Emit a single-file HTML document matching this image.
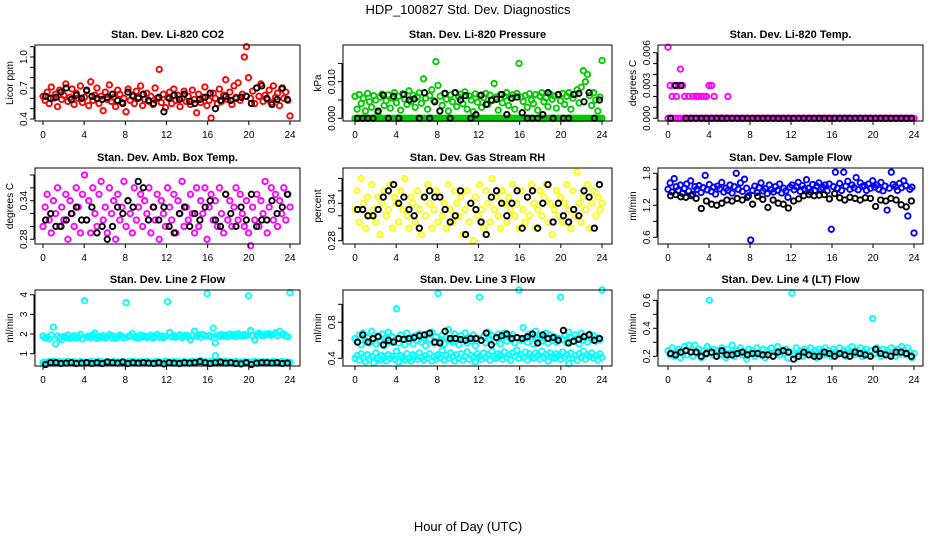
<!DOCTYPE html>
<html><head><meta charset="utf-8">
<style>
html,body{margin:0;padding:0;background:#fff;}
svg{display:block;font-family:"Liberation Sans",Arial,sans-serif;}
</style></head>
<body>
<svg id="chart" width="936" height="540" viewBox="0 0 936 540" xmlns="http://www.w3.org/2000/svg">
<text x="468" y="14" text-anchor="middle" font-size="13">HDP_100827  Std. Dev. Diagnostics</text>
<text x="468" y="531" text-anchor="middle" font-size="13">Hour of Day (UTC)</text>
<g id="panels"></g>
</svg>
<script>
// ---- data ----
const hourTicks = [0,4,8,12,16,20,24];
const panelTitles = ["Stan. Dev. Li-820 CO2","Stan. Dev. Li-820 Pressure","Stan. Dev. Li-820 Temp.","Stan. Dev. Amb. Box Temp.","Stan. Dev. Gas Stream RH","Stan. Dev. Sample Flow","Stan. Dev. Line 2 Flow","Stan. Dev. Line 3 Flow","Stan. Dev. Line 4 (LT) Flow"];
const yTitles = ["Licor ppm","kPa","degrees C","degrees C","percent","ml/min","ml/min","ml/min","ml/min"];
const seriesColors = ["#ff0000","#00cc00","#ff00ff","#ff00ff","#ffff00","#0000ff","#00ffff","#00ffff","#00ffff"];

const co2Main = [0.62,0.58,0.66,0.55,0.71,0.60,0.64,0.52,0.68,0.59,0.63,0.74,0.57,0.61,0.69,0.54,0.65,0.60,0.72,0.56,0.61,0.67,0.53,0.76,0.58,0.63,0.70,0.55,0.62,0.48,0.66,0.59,0.73,0.57,0.61,0.52,0.68,0.64,0.56,0.60,0.47,0.69,0.58,0.63,0.55,0.67,0.61,0.72,0.53,0.59,0.65,0.57,0.62,0.54,0.70,0.60,0.88,0.56,0.64,0.51,0.61,0.66,0.55,0.69,0.58,0.63,0.52,0.60,0.67,0.57,0.62,0.54,0.68,0.59,0.46,0.64,0.56,0.61,0.71,0.53,0.58,0.41,0.65,0.60,0.55,0.69,0.57,0.63,0.78,0.59,0.66,0.54,0.72,0.61,0.75,0.58,0.64,1.00,1.10,0.80,0.60,0.67,0.55,0.70,0.62,0.74,0.57,0.63,0.59,0.68,0.56,0.72,0.61,0.65,0.53,0.69,0.60,0.66,0.58,0.43];
const co2Black = [0.62,0.60,0.61,0.66,0.70,0.59,0.63,0.60,0.68,0.62,0.60,0.59,0.61,0.64,0.58,0.55,0.66,0.62,0.60,0.64,0.58,0.55,0.61,0.47,0.60,0.63,0.59,0.64,0.57,0.55,0.59,0.61,0.65,0.50,0.58,0.62,0.58,0.60,0.61,0.62,0.55,0.70,0.72,0.60,0.54,0.59,0.70,0.59];

const presMain = [0.0060,0.0025,0.0065,0.0040,0.0055,0.0020,0.0068,0.0045,0.0030,0.0062,0.0050,0.0015,0.0058,0.0066,0.0035,0.0048,0.0064,0.0028,0.0055,0.0070,0.0042,0.0060,0.0022,0.0067,0.0052,0.0038,0.0075,0.0046,0.0063,0.0030,0.0058,0.0069,0.0041,0.0108,0.0055,0.0025,0.0062,0.0078,0.0048,0.0155,0.0090,0.0060,0.0035,0.0068,0.0052,0.0020,0.0064,0.0045,0.0070,0.0032,0.0058,0.0066,0.0040,0.0072,0.0025,0.0061,0.0050,0.0018,0.0067,0.0044,0.0062,0.0030,0.0056,0.0068,0.0038,0.0063,0.0048,0.0095,0.0058,0.0022,0.0065,0.0042,0.0060,0.0070,0.0035,0.0055,0.0064,0.0025,0.0068,0.0150,0.0058,0.0046,0.0062,0.0030,0.0067,0.0050,0.0040,0.0065,0.0022,0.0060,0.0070,0.0045,0.0056,0.0032,0.0066,0.0052,0.0061,0.0028,0.0064,0.0048,0.0068,0.0038,0.0060,0.0070,0.0025,0.0055,0.0065,0.0078,0.0042,0.0085,0.0130,0.0100,0.0120,0.0062,0.0035,0.0070,0.0050,0.0020,0.0058,0.0158];
const presLow = [0,0,0,0,0,0,0,0,0,0,0,0,0,0,0,0,0,0,0,0,0,0,0,0,0,0,0,0,0,0,0,0,0,0,0,0,0,0,0,0,0,0,0,0,0,0,0,0,0,0,0,0,0,0,0,0,0,0,0,0,0,0,0,0,0,0,0,0,0,0,0,0,0,0,0,0,0,0,0,0,0,0,0,0,0,0,0,0,0,0,0,0,0,0,0,0,0,0,0,0,0,0,0,0,0,0,0,0,0,0,0,0,0,0,0,0,0,0,0,0];
const presBlack = [0,0,0,0,0.0020,0.0063,0,0.0060,0,0.0065,0.0050,0.0053,0,0.0070,0,0.0045,0.0020,0.0068,0,0.0070,0.0050,0.0062,0,0.0010,0.0063,0.0038,0.0050,0.0052,0.0065,0.0010,0.0055,0.0058,0.0015,0,0,0,0.0010,0.0070,0,0.0065,0,0,0.0065,0.0068,0.0045,0.0070,0,0.0050];

const tempMain = [0.0065,0.0030,0.0020,0.0030,0.0020,0.0030,0.0045,0.0030,0.0020,0,0.0020,0,0.0020,0,0.0020,0,0,0,0,0,0,0,0,0,0,0,0,0,0,0.0020,0,0,0,0,0,0,0,0,0,0,0,0,0,0,0,0,0,0,0,0,0,0,0,0,0,0,0,0,0,0,0,0,0,0,0,0,0,0,0,0,0,0,0,0,0,0,0,0,0,0,0,0,0,0,0,0,0,0,0,0,0,0,0,0,0,0,0,0,0,0,0,0,0,0,0,0,0,0,0,0,0,0,0,0,0,0,0,0,0,0];
const tempLow = [0,0,0,0,0,0,0,0,0,0,0,0.0020,0.0020,0.0020,0.0020,0.0020,0.0030,0.0030,0.0020,0,0,0,0,0,0];
const tempBlack = [0,0.0030,0.0030,0,0,0,0,0,0,0,0,0,0,0,0,0,0,0,0,0,0,0,0,0,0,0,0,0,0,0,0,0,0,0,0,0,0,0,0,0,0,0,0,0,0,0,0,0];

const boxMain = [0.30,0.33,0.35,0.31,0.29,0.34,0.32,0.36,0.30,0.33,0.31,0.35,0.28,0.34,0.32,0.30,0.36,0.33,0.29,0.35,0.38,0.31,0.34,0.29,0.36,0.32,0.30,0.35,0.37,0.31,0.33,0.29,0.36,0.32,0.34,0.28,0.35,0.31,0.33,0.37,0.30,0.34,0.32,0.29,0.36,0.31,0.33,0.35,0.30,0.34,0.32,0.36,0.29,0.33,0.31,0.35,0.28,0.34,0.32,0.30,0.36,0.33,0.31,0.35,0.29,0.34,0.32,0.37,0.30,0.33,0.31,0.35,0.32,0.29,0.36,0.30,0.34,0.32,0.36,0.28,0.33,0.35,0.31,0.34,0.30,0.36,0.32,0.29,0.35,0.31,0.34,0.30,0.33,0.36,0.31,0.35,0.32,0.30,0.34,0.29,0.27,0.33,0.31,0.35,0.30,0.34,0.32,0.37,0.29,0.33,0.36,0.31,0.35,0.30,0.34,0.32,0.36,0.31,0.35,0.33];
const boxBlack = [0.31,0.32,0.30,0.30,0.31,0.32,0.33,0.31,0.31,0.33,0.29,0.30,0.28,0.30,0.33,0.32,0.34,0.33,0.37,0.36,0.31,0.33,0.31,0.33,0.30,0.29,0.32,0.33,0.30,0.32,0.31,0.33,0.34,0.31,0.30,0.35,0.32,0.30,0.33,0.31,0.35,0.30,0.31,0.31,0.34,0.32,0.33,0.35];

const rhMain = [0.33,0.36,0.31,0.38,0.34,0.30,0.35,0.32,0.37,0.33,0.31,0.35,0.29,0.34,0.36,0.32,0.33,0.37,0.30,0.35,0.34,0.31,0.36,0.33,0.38,0.32,0.30,0.35,0.34,0.31,0.36,0.33,0.29,0.35,0.32,0.37,0.34,0.30,0.33,0.36,0.31,0.35,0.32,0.34,0.30,0.37,0.33,0.31,0.36,0.34,0.32,0.35,0.29,0.33,0.36,0.31,0.34,0.28,0.35,0.32,0.37,0.33,0.30,0.36,0.34,0.31,0.38,0.33,0.35,0.32,0.30,0.36,0.34,0.31,0.35,0.33,0.37,0.32,0.34,0.30,0.36,0.33,0.31,0.35,0.32,0.37,0.34,0.30,0.33,0.36,0.32,0.35,0.37,0.31,0.34,0.29,0.33,0.36,0.32,0.35,0.31,0.34,0.37,0.33,0.30,0.36,0.32,0.39,0.34,0.31,0.35,0.33,0.37,0.30,0.34,0.36,0.32,0.35,0.33,0.34];
const rhBlack = [0.33,0.33,0.32,0.32,0.33,0.35,0.36,0.37,0.34,0.35,0.33,0.32,0.30,0.35,0.36,0.35,0.35,0.33,0.31,0.32,0.36,0.29,0.34,0.33,0.31,0.29,0.35,0.36,0.34,0.32,0.34,0.36,0.30,0.35,0.36,0.30,0.34,0.37,0.31,0.34,0.32,0.31,0.33,0.32,0.36,0.35,0.30,0.37];

const flowMain = [1.50,1.62,1.45,1.70,1.55,1.48,1.58,1.42,1.52,1.60,1.47,1.66,1.40,1.55,1.50,1.57,1.44,1.53,1.76,1.49,1.59,1.46,1.54,1.41,1.56,1.51,1.63,1.45,1.52,1.48,1.58,1.43,1.55,1.80,1.50,1.62,1.46,1.69,1.52,1.38,0.55,1.48,1.56,1.44,1.53,1.62,1.47,1.51,1.42,1.58,1.50,1.45,1.55,1.48,1.60,1.43,1.52,1.47,1.35,1.54,1.58,1.49,1.55,1.63,1.46,1.57,1.51,1.68,1.52,1.45,1.59,1.48,1.56,1.62,1.50,1.53,1.58,1.47,1.60,0.75,1.55,1.82,1.52,1.61,1.48,1.82,1.56,1.65,1.50,1.58,1.53,1.72,1.49,1.62,1.55,1.57,1.48,1.60,1.52,1.66,1.54,1.58,1.50,1.63,1.47,1.56,1.11,1.52,1.82,1.59,1.55,1.48,1.61,1.53,1.66,1.57,1.00,1.50,1.54,0.68];
const flowBlack = [1.38,1.40,1.36,1.35,1.38,1.33,1.14,1.28,1.22,1.20,1.24,1.30,1.28,1.33,1.30,1.35,1.22,1.37,1.31,1.16,1.30,1.24,1.22,1.15,1.28,1.32,1.38,1.40,1.38,1.39,1.40,1.32,1.42,1.34,1.30,1.35,1.33,1.30,1.34,1.33,1.18,1.30,1.28,1.33,1.30,1.21,1.17,1.28];

const line2Main = [1.90,1.80,1.85,1.75,1.95,2.35,1.50,1.90,1.80,1.72,1.88,1.82,1.95,1.78,1.86,1.92,1.80,1.84,1.98,1.76,3.70,1.85,1.90,1.82,1.95,2.05,1.78,1.88,1.84,1.92,1.80,1.86,1.96,1.82,1.90,1.78,1.85,1.94,1.88,1.80,3.60,1.86,1.92,2.02,1.84,1.88,1.80,1.95,1.86,1.90,1.82,1.88,1.94,1.80,1.86,1.98,1.84,1.90,1.82,1.88,3.65,2.08,1.86,1.92,1.84,1.90,1.96,1.82,1.88,1.94,1.86,1.72,1.92,2.15,1.88,1.96,1.84,1.98,1.90,4.05,1.92,1.86,2.30,1.55,1.95,1.88,1.98,1.90,1.94,1.86,2.00,1.92,1.96,1.88,2.02,1.94,1.90,1.98,1.92,3.95,2.18,1.92,1.70,1.98,2.04,1.94,1.90,2.00,1.96,2.02,1.94,1.98,2.06,1.92,2.14,1.96,2.00,1.90,1.86,4.10];
const line2Low = [0.55,0.58,0.52,0.60,0.56,0.62,0.54,0.57,0.60,0.53,0.58,0.55,0.61,0.54,0.57,0.59,0.52,0.56,0.60,0.55,0.58,0.53,0.57,0.61,0.55,0.59,0.54,0.62,0.56,0.58,0.53,0.60,0.55,0.57,0.61,0.54,0.58,0.56,0.60,0.53,0.57,0.59,0.55,0.62,0.54,0.58,0.56,0.60,0.53,0.57,0.61,0.55,0.58,0.54,0.60,0.56,0.59,0.53,0.57,0.62,0.55,0.58,0.54,0.60,0.56,0.59,0.53,0.57,0.61,0.55,0.58,0.54,0.62,0.56,0.59,0.53,0.65,0.57,0.60,0.55,0.58,0.61,0.54,0.90,0.57,0.60,0.55,0.58,0.62,0.56,0.59,0.53,0.57,0.61,0.55,0.58,0.54,0.60,0.56,0.59,0.53,0.57,0.62,0.55,0.58,0.54,0.60,0.56,0.59,0.53,0.57,0.61,0.55,0.58,0.54,0.60,0.56,0.59,0.55,0.57];
const line2Black = [0.45,0.55,0.55,0.50,0.52,0.55,0.50,0.52,0.55,0.50,0.54,0.50,0.58,0.55,0.52,0.58,0.50,0.55,0.52,0.55,0.52,0.50,0.55,0.48,0.55,0.52,0.50,0.55,0.52,0.55,0.60,0.55,0.50,0.55,0.58,0.52,0.55,0.50,0.48,0.55,0.45,0.52,0.55,0.55,0.52,0.55,0.50,0.52];

const line3Main = [0.62,0.58,0.66,0.55,0.68,0.60,0.63,0.57,0.70,0.61,0.56,0.65,0.59,0.67,0.54,0.62,0.69,0.58,0.64,0.60,0.95,0.57,0.66,0.61,0.55,0.68,0.59,0.63,0.56,0.65,0.60,0.67,0.58,0.62,0.54,0.66,0.61,0.69,0.57,0.64,1.12,0.59,0.66,0.56,0.63,0.72,0.60,0.58,0.67,0.62,0.55,0.65,0.61,0.68,0.57,0.63,0.59,0.66,0.54,0.62,1.08,0.60,0.64,0.57,0.69,0.61,0.65,0.58,0.63,0.67,0.56,0.62,0.68,0.59,0.64,0.61,0.66,0.57,0.63,1.16,0.60,0.74,0.62,0.58,0.67,0.64,0.56,0.70,0.61,0.65,0.59,0.63,0.68,0.57,0.66,0.60,0.64,0.58,0.62,1.08,0.61,0.65,0.57,0.69,0.63,0.59,0.66,0.62,0.56,0.68,0.60,0.64,0.58,0.67,0.62,0.65,0.59,0.63,0.61,1.16];
const line3Low = [0.40,0.43,0.38,0.45,0.41,0.36,0.44,0.39,0.42,0.35,0.46,0.40,0.38,0.43,0.41,0.37,0.44,0.40,0.42,0.39,0.48,0.36,0.43,0.41,0.38,0.45,0.40,0.37,0.44,0.42,0.39,0.46,0.41,0.38,0.43,0.40,0.45,0.37,0.42,0.39,0.44,0.41,0.49,0.38,0.43,0.40,0.46,0.42,0.37,0.44,0.40,0.45,0.38,0.42,0.47,0.39,0.43,0.41,0.36,0.45,0.42,0.39,0.46,0.41,0.44,0.38,0.48,0.42,0.40,0.45,0.43,0.39,0.47,0.41,0.44,0.38,0.46,0.42,0.49,0.40,0.44,0.41,0.47,0.38,0.45,0.42,0.40,0.46,0.43,0.39,0.48,0.41,0.44,0.37,0.46,0.42,0.40,0.45,0.43,0.39,0.47,0.41,0.44,0.34,0.46,0.40,0.43,0.38,0.45,0.41,0.48,0.39,0.44,0.42,0.46,0.40,0.43,0.38,0.45,0.41];
const line3Black = [0.58,0.66,0.58,0.62,0.64,0.55,0.60,0.58,0.62,0.61,0.62,0.63,0.65,0.66,0.68,0.58,0.57,0.70,0.62,0.62,0.61,0.60,0.62,0.62,0.60,0.68,0.55,0.63,0.65,0.67,0.62,0.63,0.62,0.64,0.67,0.57,0.66,0.62,0.63,0.60,0.71,0.57,0.59,0.61,0.64,0.66,0.60,0.62];

const line4Main = [0.24,0.21,0.26,0.20,0.23,0.25,0.19,0.22,0.27,0.21,0.28,0.23,0.20,0.28,0.22,0.25,0.19,0.24,0.21,0.27,0.60,0.22,0.25,0.20,0.24,0.21,0.26,0.23,0.19,0.25,0.22,0.28,0.20,0.24,0.22,0.26,0.21,0.23,0.18,0.25,0.22,0.24,0.20,0.26,0.23,0.21,0.25,0.19,0.24,0.22,0.26,0.20,0.23,0.27,0.21,0.24,0.22,0.25,0.19,0.23,0.65,0.21,0.26,0.22,0.24,0.20,0.25,0.23,0.21,0.26,0.22,0.24,0.19,0.25,0.23,0.21,0.26,0.22,0.24,0.20,0.25,0.23,0.21,0.26,0.22,0.24,0.20,0.25,0.23,0.27,0.21,0.24,0.22,0.26,0.20,0.23,0.25,0.21,0.24,0.47,0.22,0.26,0.23,0.20,0.25,0.22,0.24,0.21,0.26,0.23,0.20,0.25,0.22,0.27,0.24,0.21,0.26,0.23,0.19,0.22];
const line4Black = [0.22,0.21,0.23,0.24,0.23,0.23,0.20,0.22,0.23,0.20,0.24,0.21,0.21,0.22,0.23,0.21,0.22,0.22,0.21,0.21,0.20,0.23,0.24,0.23,0.18,0.20,0.23,0.21,0.20,0.20,0.23,0.22,0.20,0.22,0.21,0.20,0.23,0.22,0.21,0.20,0.25,0.22,0.21,0.20,0.23,0.23,0.22,0.20];

const yTickValues = [[0.4,0.5,0.6,0.7,0.8,0.9,1.0,1.1],[0,0.005,0.010,0.015],[0,0.001,0.002,0.003,0.004,0.005,0.006],[0.28,0.30,0.32,0.34,0.36,0.38],[0.28,0.30,0.32,0.34,0.36,0.38],[0.6,0.9,1.2,1.5,1.8],[1,2,3,4],[0.4,0.6,0.8,1.0],[0.2,0.3,0.4,0.5,0.6]];
const yTickLabels = [["0.4","","","0.7","","","1.0",""],["0.000","","0.010",""],["0.000","","","0.003","","","0.006"],["0.28","","","0.34","",""],["0.28","","","0.34","",""],["0.6","","1.2","","1.8"],["1","2","3","4"],["0.4","","0.8",""],["0.2","","0.4","","0.6"]];

const mainSeries = [co2Main,presMain,tempMain,boxMain,rhMain,flowMain,line2Main,line3Main,line4Main];
const lowSeries = [null,presLow,tempLow,null,null,null,line2Low,line3Low,null];
const blackSeries = [co2Black,presBlack,tempBlack,boxBlack,rhBlack,flowBlack,line2Black,line3Black,line4Black];

// ---- layout (pixel geometry) ----
const colBox = [[35,300,43,290],[343,612,355,602],[658,923,668,914]];
const rowBox = [[45,121],[168,244],[290,366]];
const yAnchor = [[0.4,119,1.0,57],[0,118.3,0.010,81.7],[0,118.3,0.006,52.7],[0.28,239.3,0.34,200.7],[0.28,240.7,0.34,203.3],[0.6,237.3,1.8,173.3],[1,353.7,4,294.7],[0.4,358.3,0.8,322.3],[0.2,356.3,0.6,300.3]];

const NS="http://www.w3.org/2000/svg";
const root=document.getElementById('panels');
function mk(tag,attrs,parent){const e=document.createElementNS(NS,tag);for(const k in attrs)e.setAttribute(k,attrs[k]);parent.appendChild(e);return e;}

for(let p=0;p<9;p++){
  const c=colBox[p%3], r=rowBox[Math.floor(p/3)], a=yAnchor[p];
  const xs=h=>c[2]+h*(c[3]-c[2])/24;
  const ys=v=>a[1]+(v-a[0])*(a[3]-a[1])/(a[2]-a[0]);
  const g=mk('g',{},root);
  
  
  const t=mk('text',{x:(c[0]+c[1])/2,y:r[0]-7,'text-anchor':'middle','font-size':'11','font-weight':'bold'},g);
  t.textContent=panelTitles[p];
  
  
  const pts=mk('g',{fill:'none','stroke-width':'1.9'},g);
  
  
  const drawArr=(arr,col,off,span)=>{
    const n=arr.length;
    arr.forEach((v,i)=>{
      const h=off+(n>1?i*span/(n-1):0);
      const ci=mk('circle',{cx:xs(h).toFixed(1),cy:ys(v).toFixed(1),r:'2.7',stroke:col},pts);
      
      
    });
  };
  drawArr(mainSeries[p],seriesColors[p],0,24);
  if(lowSeries[p]){ if(p===2) drawArr(lowSeries[p],seriesColors[p],0,6); else drawArr(lowSeries[p],seriesColors[p],0,24);}
  drawArr(blackSeries[p],'#000',0.25,23.5);
  const b=mk('rect',{x:c[0],y:r[0],width:c[1]-c[0],height:r[1]-r[0],fill:'none',stroke:'#000','stroke-width':'1'},g);
  
  
  const xa=mk('g',{},g);
  
  
  mk('line',{x1:xs(0),x2:xs(24),y1:r[1],y2:r[1],stroke:'#000'},xa);
  hourTicks.forEach(h=>{
    mk('line',{x1:xs(h),x2:xs(h),y1:r[1],y2:r[1]+4,stroke:'#000'},xa);
    const tl=mk('text',{x:xs(h),y:r[1]+17,'text-anchor':'middle','font-size':'10'},xa);
    tl.textContent=h;
    
    
  });
  const ya=mk('g',{},g);
  
  
  const tv=yTickValues[p];
  mk('line',{x1:c[0]-1,x2:c[0]-1,y1:ys(tv[0]),y2:ys(tv[tv.length-1]),stroke:'#000'},ya);
  tv.forEach((v,i)=>{
    const y=ys(v);
    mk('line',{x1:c[0]-5,x2:c[0]-1,y1:y,y2:y,stroke:'#000'},ya);
    if(yTickLabels[p][i]){
      const tl=mk('text',{x:0,y:0,transform:`translate(${c[0]-8},${y}) rotate(-90)`,'text-anchor':'middle','font-size':'10'},ya);
      tl.textContent=yTickLabels[p][i];
      
      
    }
  });
  const yt=mk('text',{x:0,y:0,transform:`translate(${c[0]-22},${(r[0]+r[1])/2}) rotate(-90)`,'text-anchor':'middle','font-size':'10'},g);
  yt.textContent=yTitles[p];
  
  
}
</script>
</body></html>
